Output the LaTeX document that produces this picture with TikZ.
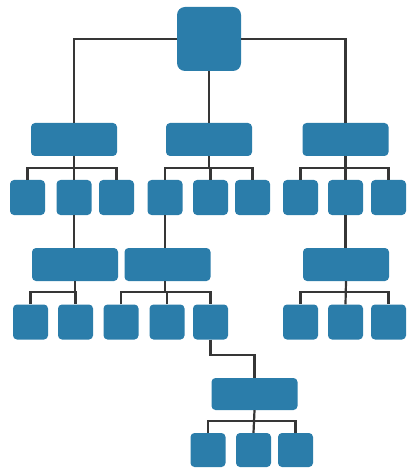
\documentclass[tikz,border=0pt]{standalone}
\definecolor{boxblue}{HTML}{2B7DAA}
\definecolor{linegray}{HTML}{363636}
\begin{document}
\begin{tikzpicture}[x=1pt,y=-1pt,
  box/.style={fill=boxblue,draw=none,rounded corners=4pt,inner sep=0pt,anchor=center},
  big/.style={box,minimum width=64pt,minimum height=64pt,rounded corners=8pt},
  wide/.style={box,minimum width=86pt,minimum height=33pt},
  sq/.style={box,minimum width=35pt,minimum height=35pt},
  conn/.style={draw=linegray,line width=2.2pt}]
\useasboundingbox (0,0) rectangle (406,470);
\node[big] (top) at (209,39) {};
\node[wide] (a) at (74,139.5) {};
\node[wide] (b) at (209,139.5) {};
\node[wide] (c) at (345.5,139.5) {};
% level 2 children
\node[sq] (a1) at (27.5,197.5) {};
\node[sq] (a2) at (74,197.5) {};
\node[sq] (a3) at (116.5,197.5) {};
\node[sq] (b1) at (165,197.5) {};
\node[sq] (b2) at (210.5,197.5) {};
\node[sq] (b3) at (252.5,197.5) {};
\node[sq] (c1) at (300.5,197.5) {};
\node[sq] (c2) at (345.5,197.5) {};
\node[sq] (c3) at (388.5,197.5) {};
% level 3
\node[wide] (d) at (75,264.5) {};
\node[wide] (e) at (167.5,264.5) {};
\node[wide] (f) at (346,264.5) {};
\node[sq] (d1) at (30.5,322) {};
\node[sq] (d2) at (75.5,322) {};
\node[sq] (e1) at (121,322) {};
\node[sq] (e2) at (167,322) {};
\node[sq] (e3) at (210.5,322) {};
\node[sq] (f1) at (300.5,322) {};
\node[sq] (f2) at (345.5,322) {};
\node[sq] (f3) at (388.5,322) {};
% level 4
\node[wide,minimum height=32pt] (g) at (254.5,394) {};
\node[sq,minimum height=34pt] (g1) at (208,450) {};
\node[sq,minimum height=34pt] (g2) at (253.5,450) {};
\node[sq,minimum height=34pt] (g3) at (295.5,450) {};
\coordinate (ybar1) at (0,168);
\coordinate (ybar2) at (0,292);
\coordinate (ybar3) at (0,421);
\coordinate (ychain) at (0,355);
% top connectors
\draw[conn] (top.west) -| (a.north);
\draw[conn] (top.east) -| (c.north);
\draw[conn] (top.south) -- (b.north);
% level 2 brackets
\draw[conn] (a.south) -- (a2.north);
\draw[conn] (a1.north) -- (a1.north |- ybar1) -- (a3.north |- ybar1) -- (a3.north);
\draw[conn] (b.south) -- (b.south |- ybar1);
\draw[conn] (b1.north) -- (b1.north |- ybar1) -- (b3.north |- ybar1) -- (b3.north);
\draw[conn] (b2.north) -- (b2.north |- ybar1);
\draw[conn] (c.south) -- (c2.north);
\draw[conn] (c1.north) -- (c1.north |- ybar1) -- (c3.north |- ybar1) -- (c3.north);
% down to level 3
\draw[conn] (a2.south) -- (a2.south |- d.north);
\draw[conn] (b1.south) -- (b1.south |- e.north);
\draw[conn] (c2.south) -- (c2.south |- f.north);
% level 3 brackets
\draw[conn] (d1.north) -- (d1.north |- ybar2) -- (d2.north |- ybar2) -- (d2.north);
\draw[conn] (d.south) -- (d.south |- ybar2);
\draw[conn] (e1.north) -- (e1.north |- ybar2) -- (e3.north |- ybar2) -- (e3.north);
\draw[conn] (b1.south |- e.south) -- (b1.south |- ybar2);
\draw[conn] (e2.north) -- (e2.north |- ybar2);
\draw[conn] (f1.north) -- (f1.north |- ybar2) -- (f3.north |- ybar2) -- (f3.north);
\draw[conn] (f.south) -- (f2.north);
% chain
\draw[conn] (e3.south) -- (e3.south |- ychain) -- (g.north |- ychain) -- (g.north);
% level 4 bracket
\draw[conn] (g.south) -- (g2.north);
\draw[conn] (g1.north) -- (g1.north |- ybar3) -- (g3.north |- ybar3) -- (g3.north);
\end{tikzpicture}
\end{document}
